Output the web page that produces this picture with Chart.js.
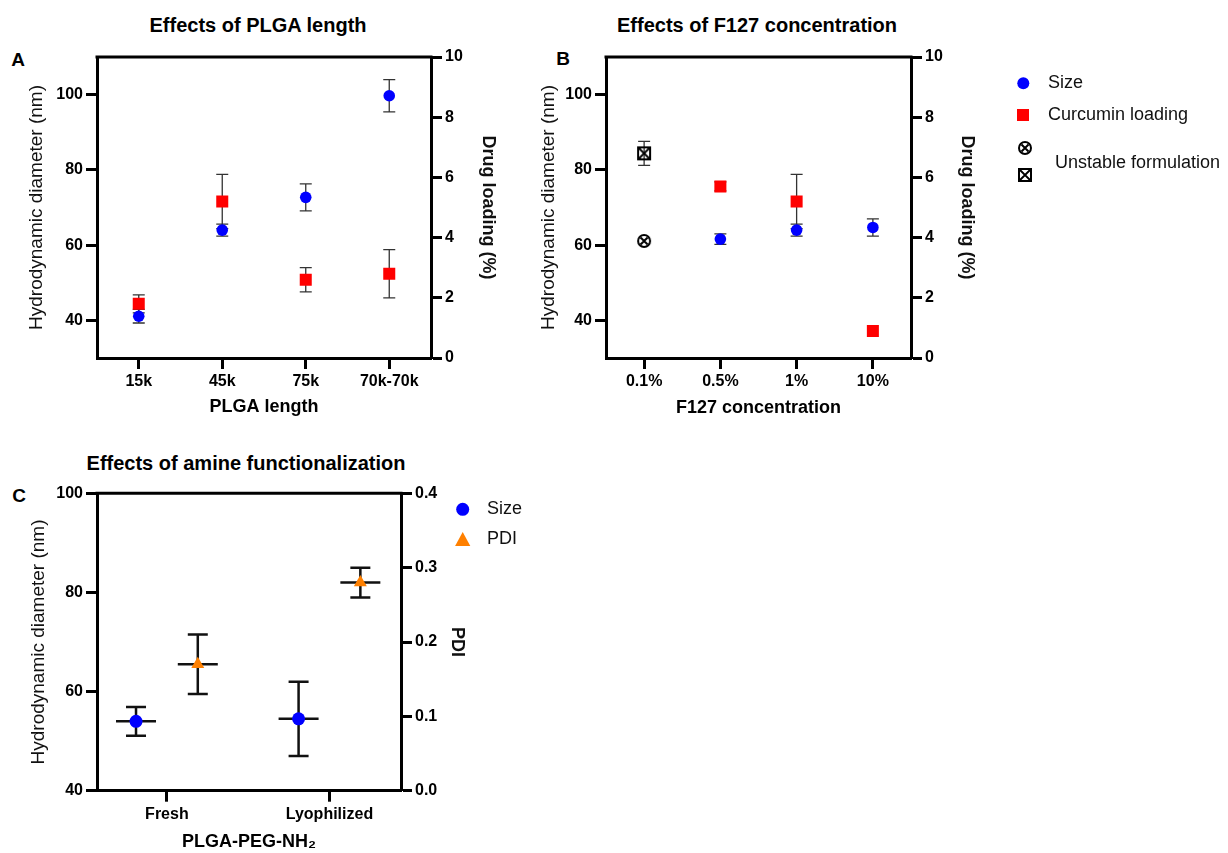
<!DOCTYPE html>
<html>
<head>
<meta charset="utf-8">
<title>Nanoparticle formulation effects</title>
<script src="https://cdn.jsdelivr.net/npm/chart.js@4.4.0/dist/chart.umd.min.js"></script>
<style>
  body { margin: 0; background: #fff; width: 1228px; height: 853px; position: relative; overflow: hidden;
         font-family: "Liberation Sans", Arial, "DejaVu Sans", sans-serif; color: #000; }
  canvas { position: absolute; }
  .title { position: absolute; font-weight: bold; font-size: 20px; transform: translate(-50%, -50%); white-space: nowrap; }
  .panel { position: absolute; font-weight: bold; font-size: 19px; transform: translate(-50%, -50%); }
</style>
</head>
<body>
<div class="title" style="left:258px;top:25px">Effects of PLGA length</div>
<div class="title" style="left:757px;top:25px">Effects of F127 concentration</div>
<div class="title" style="left:246px;top:463px">Effects of amine functionalization</div>
<div class="panel" style="left:18px;top:60px">A</div>
<div class="panel" style="left:563px;top:59px">B</div>
<div class="panel" style="left:19px;top:496px">C</div>

<canvas id="chartA" width="520" height="430" style="left:0;top:0"></canvas>
<canvas id="chartB" width="708" height="430" style="left:520px;top:0"></canvas>
<canvas id="chartC" width="560" height="423" style="left:0;top:430px"></canvas>

<script>
// ---- data: panel A (PLGA length) ----
const plgaLengths = ["15k", "45k", "75k", "70k-70k"];
const plgaSize = [41.1, 64.0, 72.7, 99.7];
const plgaSizeSd = [1.8, 1.6, 3.6, 4.3];
const plgaLoading = [1.8, 5.2, 2.6, 2.8];
const plgaLoadingSd = [0.3, 0.9, 0.4, 0.8];

// ---- data: panel B (F127 concentration) ----
const f127Conc = ["0.1%", "0.5%", "1%", "10%"];
const f127Size = [null, 61.6, 64.0, 64.7];
const f127SizeSd = [null, 1.4, 1.6, 2.3];
const f127Loading = [null, 5.7, 5.2, 0.9];
const f127LoadingSd = [null, 0.15, 0.9, 0];
const f127UnstableSize = [61.1, null, null, null];
const f127UnstableLoading = [6.8, null, null, null];
const f127UnstableLoadingSd = [0.4, null, null, null];

// ---- data: panel C (amine functionalization) ----
const amineStates = ["Fresh", "Lyophilized"];
const amineSize = [54.0, 54.5];
const amineSizeSd = [2.9, 7.5];
const aminePdi = [0.17, 0.28];
const aminePdiSd = [0.04, 0.02];

// ---- tick labels ----
const diameterTicksAB = [40, 60, 80, 100];
const diameterTicksC = [40, 60, 80, 100];
const loadingTicks = [0, 2, 4, 6, 8, 10];
const pdiTicks = [0, 0.1, 0.2, 0.3, 0.4];

const BLUE = "#0000ff", RED = "#ff0000", ORANGE = "#ff8000";
const FONT = '"Liberation Sans", Arial, "DejaVu Sans", sans-serif';
Chart.defaults.font.family = FONT;
Chart.defaults.color = "#000";

// small marker images for the "unstable formulation" points
function makeMarker(kind) {
  const c = document.createElement("canvas");
  c.width = 16; c.height = 16;
  const g = c.getContext("2d");
  g.strokeStyle = "#000";
  g.lineWidth = 2;
  if (kind === "circle") {
    g.beginPath(); g.arc(8, 8, 6, 0, Math.PI * 2); g.stroke();
    g.beginPath();
    g.moveTo(4.5, 4.5); g.lineTo(11.5, 11.5);
    g.moveTo(11.5, 4.5); g.lineTo(4.5, 11.5);
    g.stroke();
  } else {
    g.strokeRect(2, 2, 12, 12);
    g.lineWidth = 1.8;
    g.beginPath();
    g.moveTo(2, 2); g.lineTo(14, 14);
    g.moveTo(14, 2); g.lineTo(2, 14);
    g.stroke();
  }
  return c;
}
const circledX = makeMarker("circle");
const boxedX = makeMarker("box");

// error bars drawn from the chart's own scales
const errorBars = {
  id: "errorBars",
  beforeDatasetsDraw(chart, args, opts) {
    const ctx = chart.ctx;
    chart.data.datasets.forEach((ds, di) => {
      if (!ds.errors) return;
      const meta = chart.getDatasetMeta(di);
      const scale = chart.scales[ds.yAxisID];
      ctx.save();
      ctx.strokeStyle = opts.color;
      ctx.lineWidth = opts.width;
      meta.data.forEach((pt, i) => {
        const raw = ds.data[i];
        const v = raw !== null && typeof raw === "object" ? raw.y : raw;
        const e = ds.errors[i];
        if (v == null || !e) return;
        const x = pt.x;
        const yLo = scale.getPixelForValue(v - e);
        const yHi = scale.getPixelForValue(v + e);
        ctx.beginPath();
        ctx.moveTo(x, yLo); ctx.lineTo(x, yHi);
        ctx.moveTo(x - opts.cap, yLo); ctx.lineTo(x + opts.cap, yLo);
        ctx.moveTo(x - opts.cap, yHi); ctx.lineTo(x + opts.cap, yHi);
        if (opts.mean) {
          const ym = scale.getPixelForValue(v);
          ctx.moveTo(x - opts.mean, ym); ctx.lineTo(x + opts.mean, ym);
        }
        ctx.stroke();
      });
      ctx.restore();
    });
  }
};

// top edge of the plot frame
const frameTop = {
  id: "frameTop",
  afterDraw(chart) {
    const { ctx, chartArea: a } = chart;
    ctx.save();
    ctx.strokeStyle = "#000";
    ctx.lineWidth = 3;
    ctx.beginPath();
    ctx.moveTo(a.left - 1.5, a.top);
    ctx.lineTo(a.right + 1.5, a.top);
    ctx.stroke();
    ctx.restore();
  }
};

// legend drawn next to the plot
const sideLegend = {
  id: "sideLegend",
  afterDraw(chart, args, opts) {
    if (!opts.items) return;
    const ctx = chart.ctx;
    ctx.save();
    ctx.font = "18px " + FONT;
    ctx.fillStyle = "#111";
    ctx.textBaseline = "middle";
    opts.items.forEach((it) => {
      (it.marks || []).forEach((m) => {
        ctx.fillStyle = m.color || "#000";
        ctx.beginPath();
        if (m.shape === "circle") {
          ctx.arc(m.x, m.y, m.r, 0, Math.PI * 2); ctx.fill();
        } else if (m.shape === "rect") {
          ctx.fillRect(m.x - m.r, m.y - m.r, m.r * 2, m.r * 2);
        } else if (m.shape === "triangle") {
          ctx.moveTo(m.x, m.y - m.r);
          ctx.lineTo(m.x + m.r * 0.95, m.y + m.r * 0.75);
          ctx.lineTo(m.x - m.r * 0.95, m.y + m.r * 0.75);
          ctx.closePath(); ctx.fill();
        } else if (m.image) {
          ctx.drawImage(m.image, m.x - 8, m.y - 8);
        }
      });
      ctx.fillStyle = "#111";
      ctx.fillText(it.label, it.x, it.y);
    });
    ctx.restore();
  }
};

const tickFont = { size: 16, weight: "bold" };
const axisGrid = { drawOnChartArea: false, drawTicks: true, tickLength: 11, tickWidth: 3, tickColor: "#000" };
const axisBorder = { color: "#000", width: 3 };

function yAxis(position, min, max, tickList, width, titleText, titleFont, titlePad, fmt) {
  return {
    type: "linear",
    position: position,
    min: min,
    max: max,
    afterBuildTicks: (s) => { s.ticks = tickList.map((v) => ({ value: v })); },
    afterFit: (s) => { s.width = width; },
    grid: axisGrid,
    border: axisBorder,
    ticks: { font: tickFont, color: "#000", padding: 3, callback: fmt || ((v) => v) },
    title: { display: true, text: titleText, font: titleFont, color: "#111", padding: { top: titlePad, bottom: 0 } }
  };
}

function xCategory(height, titleText, titlePad) {
  return {
    type: "category",
    offset: true,
    afterFit: (s) => { s.height = height; },
    grid: axisGrid,
    border: axisBorder,
    ticks: { font: tickFont, color: "#000", padding: 3, maxRotation: 0 },
    title: { display: true, text: titleText, font: { size: 18, weight: "bold" }, color: "#000", padding: { top: 0, bottom: titlePad } }
  };
}

const leftTitleFont = { size: 19, weight: "normal" };
const rightTitleFont = { size: 18, weight: "bold" };
const baseOptions = {
  responsive: false,
  animation: false,
  events: [],
  plugins: { legend: { display: false }, tooltip: { enabled: false } }
};

// ---- Panel A ----
new Chart(document.getElementById("chartA"), {
  type: "line",
  data: {
    labels: plgaLengths,
    datasets: [
      { label: "Size", data: plgaSize, errors: plgaSizeSd, yAxisID: "y",
        showLine: false, pointStyle: "circle", pointRadius: 5.8,
        pointBackgroundColor: BLUE, pointBorderColor: BLUE, pointBorderWidth: 0 },
      { label: "Curcumin loading", data: plgaLoading, errors: plgaLoadingSd, yAxisID: "y1",
        showLine: false, pointStyle: "rect", pointRadius: 8.5,
        pointBackgroundColor: RED, pointBorderColor: RED, pointBorderWidth: 0 }
    ]
  },
  options: {
    ...baseOptions,
    layout: { padding: { top: 57, left: 0, right: 0, bottom: 0 } },
    scales: {
      x: xCategory(72, "PLGA length", 12.2),
      y: yAxis("left", 30, 110, diameterTicksAB, 97, "Hydrodynamic diameter (nm)", leftTitleFont, 25.5),
      y1: yAxis("right", 0, 10, loadingTicks, 89, "Drug loading (%)", rightTitleFont, 21.2)
    },
    plugins: {
      ...baseOptions.plugins,
      errorBars: { color: "#333", width: 1.3, cap: 6 }
    }
  },
  plugins: [errorBars, frameTop, sideLegend]
});

// ---- Panel B ----
new Chart(document.getElementById("chartB"), {
  type: "line",
  data: {
    labels: f127Conc,
    datasets: [
      { label: "Size", data: f127Size, errors: f127SizeSd, yAxisID: "y",
        showLine: false, pointStyle: "circle", pointRadius: 5.8,
        pointBackgroundColor: BLUE, pointBorderColor: BLUE, pointBorderWidth: 0 },
      { label: "Curcumin loading", data: f127Loading, errors: f127LoadingSd, yAxisID: "y1",
        showLine: false, pointStyle: "rect", pointRadius: 8.5,
        pointBackgroundColor: RED, pointBorderColor: RED, pointBorderWidth: 0 },
      { label: "Unstable size", data: f127UnstableSize, yAxisID: "y",
        showLine: false, pointStyle: circledX, pointRadius: 8 },
      { label: "Unstable loading", data: f127UnstableLoading, errors: f127UnstableLoadingSd, yAxisID: "y1",
        showLine: false, pointStyle: boxedX, pointRadius: 8 }
    ]
  },
  options: {
    ...baseOptions,
    layout: { padding: { top: 57, left: 0, right: 228, bottom: 0 } },
    scales: {
      x: xCategory(72, "F127 concentration", 10.9),
      y: yAxis("left", 30, 110, diameterTicksAB, 86, "Hydrodynamic diameter (nm)", leftTitleFont, 16.9),
      y1: yAxis("right", 0, 10, loadingTicks, 89, "Drug loading (%)", rightTitleFont, 22.5)
    },
    plugins: {
      ...baseOptions.plugins,
      errorBars: { color: "#333", width: 1.3, cap: 6 },
      sideLegend: {
        items: [
          { label: "Size", x: 528, y: 83, marks: [{ shape: "circle", x: 503.3, y: 83.3, r: 6, color: BLUE }] },
          { label: "Curcumin loading", x: 528, y: 115, marks: [{ shape: "rect", x: 503, y: 115, r: 6, color: RED }] },
          { label: "Unstable formulation", x: 535, y: 163,
            marks: [{ image: circledX, x: 505, y: 148 }, { image: boxedX, x: 505, y: 175 }] }
        ]
      }
    }
  },
  plugins: [errorBars, frameTop, sideLegend]
});

// ---- Panel C ----
const dodge = 0.19; // side-by-side offset of the two series within a group
new Chart(document.getElementById("chartC"), {
  type: "scatter",
  data: {
    datasets: [
      { label: "Size", yAxisID: "y", errors: amineSizeSd,
        data: amineSize.map((v, i) => ({ x: i - dodge, y: v })),
        pointStyle: "circle", pointRadius: 6.5,
        pointBackgroundColor: BLUE, pointBorderColor: BLUE, pointBorderWidth: 0 },
      { label: "PDI", yAxisID: "y1", errors: aminePdiSd,
        data: aminePdi.map((v, i) => ({ x: i + dodge, y: v })),
        pointStyle: "triangle", pointRadius: 7.5,
        pointBackgroundColor: ORANGE, pointBorderColor: ORANGE, pointBorderWidth: 0 }
    ]
  },
  options: {
    ...baseOptions,
    layout: { padding: { top: 63.3, left: 0, right: 80, bottom: 0 } },
    scales: {
      x: {
        type: "linear",
        min: -0.43,
        max: 1.44,
        afterBuildTicks: (s) => { s.ticks = amineStates.map((_, i) => ({ value: i })); },
        afterFit: (s) => { s.height = 62.3; },
        grid: axisGrid,
        border: axisBorder,
        ticks: { font: tickFont, color: "#000", padding: 3, maxRotation: 0, callback: (v) => amineStates[v] },
        title: { display: true, text: "PLGA-PEG-NH\u2082", font: { size: 18, weight: "bold" }, color: "#000",
                 padding: { top: 0, bottom: 0.5 } }
      },
      y: yAxis("left", 40, 100, diameterTicksC, 97, "Hydrodynamic diameter (nm)", leftTitleFont, 27),
      y1: yAxis("right", 0, 0.4, pdiTicks, 79, "PDI", rightTitleFont, 12.5, (v) => v.toFixed(1))
    },
    plugins: {
      ...baseOptions.plugins,
      errorBars: { color: "#111", width: 2.5, cap: 10, mean: 20 },
      sideLegend: {
        items: [
          { label: "Size", x: 487, y: 79.3, marks: [{ shape: "circle", x: 462.7, y: 79.3, r: 6.5, color: BLUE }] },
          { label: "PDI", x: 487, y: 109.3, marks: [{ shape: "triangle", x: 462.7, y: 110, r: 8, color: ORANGE }] }
        ]
      }
    }
  },
  plugins: [errorBars, frameTop, sideLegend]
});
</script>
</body>
</html>
